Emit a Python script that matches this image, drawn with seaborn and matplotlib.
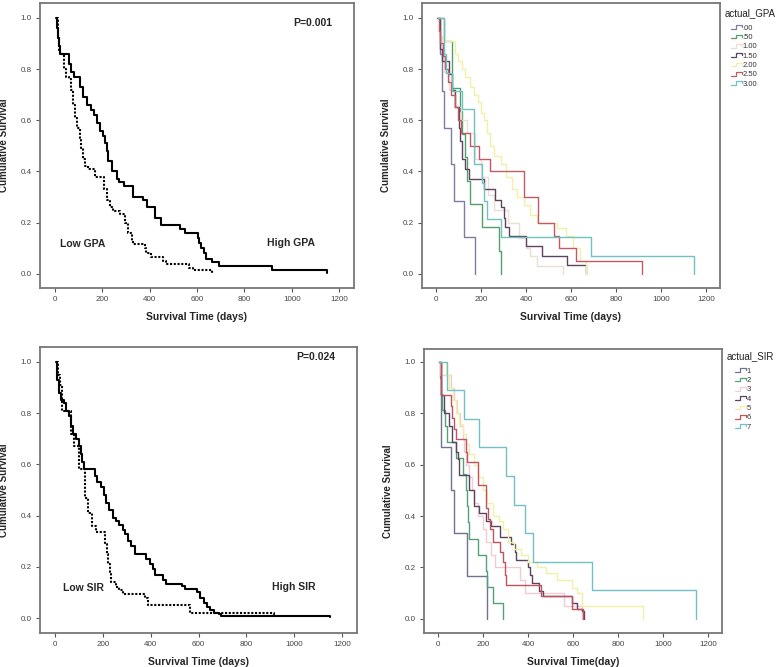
import numpy as np
import pandas as pd
import matplotlib
matplotlib.use("Agg")
import matplotlib.pyplot as plt
import seaborn as sns
from matplotlib.lines import Line2D
from matplotlib.legend_handler import HandlerLine2D

# --- GPA, two groups (top left) ---
gpa_high_t = [7, 10, 14, 18, 24, 59, 70, 80, 108, 121, 138, 152, 166, 177, 191, 205, 212, 219, 226, 240,
              261, 272, 292, 331, 373, 390, 422, 450, 527, 548, 603, 610, 618, 628, 640, 663, 691, 915, 1148]
gpa_high_s = [1.0, 0.96, 0.92, 0.89, 0.86, 0.82, 0.79, 0.77, 0.73, 0.69, 0.66, 0.64, 0.62, 0.59, 0.56, 0.54,
              0.51, 0.48, 0.44, 0.40, 0.37, 0.36, 0.345, 0.30, 0.29, 0.26, 0.22, 0.19, 0.175, 0.16, 0.14, 0.12,
              0.10, 0.08, 0.06, 0.045, 0.03, 0.015, 0.005]
gpa_low_t = [7, 13, 17, 24, 40, 49, 59, 68, 77, 87, 96, 105, 110, 119, 128, 142, 170, 208, 219, 233,
             247, 275, 296, 310, 324, 331, 380, 387, 408, 457, 471, 568, 582, 664]
gpa_low_s = [1.0, 0.93, 0.87, 0.86, 0.80, 0.77, 0.76, 0.72, 0.66, 0.61, 0.57, 0.53, 0.49, 0.45, 0.42, 0.41,
             0.38, 0.33, 0.29, 0.26, 0.245, 0.235, 0.20, 0.16, 0.13, 0.115, 0.10, 0.08, 0.065, 0.05, 0.04,
             0.025, 0.015, 0.003]

# --- SIR, two groups (bottom left) ---
sir_high_t = [3, 10, 17, 24, 38, 45, 59, 66, 76, 87, 101, 108, 115, 122, 169, 178, 192, 206, 213, 225,
              242, 256, 270, 284, 295, 305, 319, 333, 382, 396, 410, 417, 452, 466, 529, 544, 593, 607,
              621, 635, 649, 663, 684, 694, 1148]
sir_high_s = [1.0, 0.93, 0.88, 0.85, 0.84, 0.81, 0.79, 0.75, 0.72, 0.70, 0.67, 0.64, 0.61, 0.58, 0.555,
              0.53, 0.51, 0.48, 0.45, 0.42, 0.39, 0.38, 0.365, 0.345, 0.33, 0.30, 0.28, 0.25, 0.23, 0.21,
              0.19, 0.17, 0.15, 0.135, 0.125, 0.115, 0.10, 0.08, 0.06, 0.045, 0.03, 0.02, 0.015, 0.008, 0.003]
sir_low_t = [3, 12, 21, 31, 66, 80, 101, 126, 140, 157, 171, 211, 216, 221, 230, 235, 256, 270, 284,
             375, 389, 565, 916]
sir_low_s = [1.0, 0.95, 0.91, 0.81, 0.72, 0.67, 0.58, 0.47, 0.41, 0.36, 0.335, 0.29, 0.25, 0.21, 0.18,
             0.14, 0.12, 0.11, 0.095, 0.08, 0.05, 0.02, 0.005]

# --- actual_GPA groups (top right) ---
gpa_labels = [".00", ".50", "1.00", "1.50", "2.00", "2.50", "3.00"]
gpa_colors = ["#7c7ca4", "#54a06a", "#eadfd2", "#5e4460", "#f2f0a8", "#c25a66", "#70c2c0"]
gpa_grp_t = [
    [7, 16, 27, 34, 68, 79, 123, 172],
    [7, 37, 71, 108, 118, 128, 140, 153, 205, 280, 287],
    [7, 15, 25, 35, 60, 80, 110, 140, 175, 200, 230, 260, 320, 370, 400, 420, 450, 565],
    [4, 19, 27, 56, 71, 86, 101, 108, 116, 131, 146, 212, 264, 287, 302, 309, 324, 398, 472, 584, 665],
    [7, 35, 86, 100, 115, 130, 150, 168, 185, 200, 212, 225, 240, 260, 287, 310, 340, 361, 390, 420,
     450, 540, 580, 610, 640, 666],
    [7, 12, 18, 30, 40, 55, 65, 85, 100, 110, 153, 190, 242, 390, 455, 524, 547, 621, 914],
    [7, 35, 45, 70, 115, 168, 205, 215, 227, 287, 688, 1148],
]
gpa_grp_s = [
    [1.0, 0.857, 0.714, 0.571, 0.429, 0.286, 0.143, 0.0],
    [1.0, 0.909, 0.727, 0.636, 0.545, 0.455, 0.364, 0.273, 0.182, 0.091, 0.0],
    [1.0, 0.93, 0.86, 0.79, 0.72, 0.65, 0.60, 0.55, 0.45, 0.38, 0.31, 0.25, 0.20, 0.14, 0.10, 0.07, 0.03, 0.0],
    [1.0, 0.88, 0.83, 0.78, 0.72, 0.65, 0.57, 0.52, 0.45, 0.41, 0.37, 0.33, 0.29, 0.26, 0.22, 0.185, 0.15,
     0.11, 0.07, 0.035, 0.0],
    [1.0, 0.91, 0.86, 0.83, 0.80, 0.77, 0.73, 0.70, 0.67, 0.63, 0.60, 0.55, 0.50, 0.46, 0.43, 0.38, 0.33,
     0.30, 0.27, 0.23, 0.20, 0.18, 0.15, 0.10, 0.05, 0.0],
    [1.0, 0.95, 0.90, 0.85, 0.80, 0.75, 0.70, 0.65, 0.60, 0.55, 0.50, 0.45, 0.40, 0.30, 0.20, 0.15, 0.10,
     0.05, 0.0],
    [1.0, 0.857, 0.786, 0.714, 0.643, 0.429, 0.357, 0.286, 0.214, 0.143, 0.071, 0.0],
]

# --- actual_SIR groups (bottom right) ---
sir_labels = ["1", "2", "3", "4", "5", "6", "7"]
sir_colors = ["#707292", "#52a276", "#f0ccd2", "#5c4460", "#f2f0a8", "#c2525e", "#72c0c6"]
sir_grp_t = [
    [5, 12, 57, 72, 127, 218],
    [5, 8, 12, 20, 30, 42, 80, 110, 125, 130, 135, 139, 176, 214, 218, 244, 288],
    [5, 10, 60, 70, 85, 100, 110, 115, 125, 140, 150, 160, 180, 200, 215, 235, 255, 365, 385, 560, 640],
    [4, 12, 27, 49, 64, 79, 87, 94, 139, 161, 184, 214, 236, 274, 326, 341, 348, 401, 408, 416, 450,
     468, 595, 617, 640, 650],
    [5, 34, 50, 65, 80, 95, 110, 125, 140, 160, 180, 200, 220, 244, 270, 290, 311, 340, 370, 400, 438,
     480, 528, 595, 620, 640, 909],
    [4, 12, 57, 64, 72, 79, 124, 131, 176, 214, 221, 229, 244, 274, 288, 296, 303, 460, 595, 644],
    [4, 42, 117, 184, 303, 336, 386, 423, 685, 1148],
]
sir_grp_s = [
    [1.0, 0.667, 0.5, 0.333, 0.167, 0.0],
    [1.0, 0.9375, 0.875, 0.8125, 0.75, 0.6875, 0.625, 0.5625, 0.5, 0.4375, 0.375, 0.3125, 0.25, 0.1875,
     0.125, 0.0625, 0.0],
    [1.0, 0.95, 0.9, 0.85, 0.8, 0.75, 0.7, 0.65, 0.6, 0.55, 0.5, 0.45, 0.4, 0.35, 0.3, 0.25, 0.2, 0.15,
     0.1, 0.05, 0.0],
    [1.0, 0.87, 0.80, 0.75, 0.69, 0.65, 0.62, 0.56, 0.50, 0.44, 0.41, 0.38, 0.36, 0.32, 0.29, 0.26, 0.23,
     0.20, 0.17, 0.14, 0.11, 0.09, 0.06, 0.04, 0.03, 0.0],
    [1.0, 0.95, 0.90, 0.85, 0.80, 0.76, 0.72, 0.68, 0.64, 0.60, 0.55, 0.50, 0.45, 0.40, 0.38, 0.35, 0.30,
     0.27, 0.25, 0.22, 0.20, 0.18, 0.15, 0.12, 0.10, 0.05, 0.0],
    [1.0, 0.87, 0.83, 0.78, 0.74, 0.70, 0.65, 0.61, 0.52, 0.43, 0.39, 0.35, 0.30, 0.26, 0.22, 0.17, 0.13,
     0.09, 0.04, 0.0],
    [1.0, 0.889, 0.778, 0.667, 0.556, 0.444, 0.333, 0.222, 0.111, 0.0],
]

sns.set_style("white")
plt.rcParams["font.family"] = ["Liberation Sans", "DejaVu Sans"]


class StepHandler(HandlerLine2D):
    # little SPSS-style step glyph in the legend
    def create_artists(self, legend, orig_handle, xdescent, ydescent, width, height, fontsize, trans):
        xs = np.array([0.0, 0.45, 0.45, 0.95, 0.95]) * width - xdescent
        ys = np.array([0.15, 0.15, 0.85, 0.85, 0.45]) * height - ydescent
        ln = Line2D(xs, ys, color=orig_handle.get_color(), lw=0.9)
        ln.set_transform(trans)
        return [ln]


def style_axes(ax, xlabel, ylim):
    ax.set_xlim(-62, 1262)
    ax.set_ylim(*ylim)
    ax.set_xticks([0, 200, 400, 600, 800, 1000, 1200])
    ax.set_yticks([0.0, 0.2, 0.4, 0.6, 0.8, 1.0])
    ax.set_yticklabels(["0.0", "0.2", "0.4", "0.6", "0.8", "1.0"])
    ax.tick_params(axis="both", direction="out", length=3, width=0.8, color="#555555",
                   labelsize=5.8, labelcolor="#444444", pad=3, left=True, bottom=True)
    for sp in ax.spines.values():
        sp.set_color("#777777")
        sp.set_linewidth(1.3)
    ax.set_xlabel(xlabel, fontsize=7.5, fontweight="bold", labelpad=6)
    ax.set_ylabel("Cumulative Survival", fontsize=7, fontweight="bold", labelpad=8)


def two_group(ax, t1, s1, t2, s2, ptxt, py, low, high):
    sns.lineplot(x=t1, y=s1, ax=ax, color="black", lw=1.5, drawstyle="steps-post",
                 estimator=None, sort=False)
    sns.lineplot(x=t2, y=s2, ax=ax, color="black", lw=1.5, linestyle=(0, (1, 0.8)),
                 drawstyle="steps-post", estimator=None, sort=False)
    ax.text(1090, py, ptxt, ha="center", va="center", fontsize=7.5, fontweight="bold")
    ax.text(120, 0.117, low, ha="center", va="center", fontsize=7.5, fontweight="bold")
    ax.text(998, 0.12, high, ha="center", va="center", fontsize=7.5, fontweight="bold")


def multi_group(ax, labels, colors, ts, ss, title, title_y, leg_x, leg_y):
    df = pd.concat([pd.DataFrame({"time": t, "surv": s, "group": lab})
                    for lab, t, s in zip(labels, ts, ss)], ignore_index=True)
    sns.lineplot(data=df, x="time", y="surv", hue="group", hue_order=labels,
                 palette=dict(zip(labels, colors)), ax=ax, lw=1.0, drawstyle="steps-post",
                 estimator=None, sort=False, legend=False)
    ax.text(1.017, title_y, title, transform=ax.transAxes, ha="left", va="center",
            fontsize=7, color="#222222")
    handles = [Line2D([], [], color=c, lw=0.9) for c in colors]
    leg = ax.legend(handles, labels, loc="upper left", bbox_to_anchor=(leg_x, leg_y),
                    frameon=False, fontsize=5.5, handlelength=1.45, handletextpad=0.05,
                    labelspacing=0.26, borderaxespad=0.0, borderpad=0.0,
                    handler_map={Line2D: StepHandler()})
    for txt in leg.get_texts():
        txt.set_color("#333333")


fig = plt.figure(figsize=(7.78, 6.67), dpi=100)
ax1 = fig.add_axes([0.0514, 0.5682, 0.4036, 0.4273])
ax2 = fig.add_axes([0.5424, 0.5682, 0.3830, 0.4273])
ax3 = fig.add_axes([0.0514, 0.0510, 0.4075, 0.4288])
ax4 = fig.add_axes([0.5450, 0.0510, 0.3830, 0.4258])

two_group(ax1, gpa_high_t, gpa_high_s, gpa_low_t, gpa_low_s, "P=0.001", 0.98, "Low GPA", "High GPA")
style_axes(ax1, "Survival Time (days)", (-0.055, 1.058))

multi_group(ax2, gpa_labels, gpa_colors, gpa_grp_t, gpa_grp_s, "actual_GPA", 0.965, 1.037, 0.925)
style_axes(ax2, "Survival Time (days)", (-0.055, 1.058))

two_group(ax3, sir_high_t, sir_high_s, sir_low_t, sir_low_s, "P=0.024", 1.02, "Low SIR", "High SIR")
style_axes(ax3, "Survival Time (days)", (-0.058, 1.058))

multi_group(ax4, sir_labels, sir_colors, sir_grp_t, sir_grp_s, "actual_SIR", 0.975, 1.044, 0.935)
style_axes(ax4, "Survival Time(day)", (-0.055, 1.05))

fig.savefig("out.png", dpi=100)
